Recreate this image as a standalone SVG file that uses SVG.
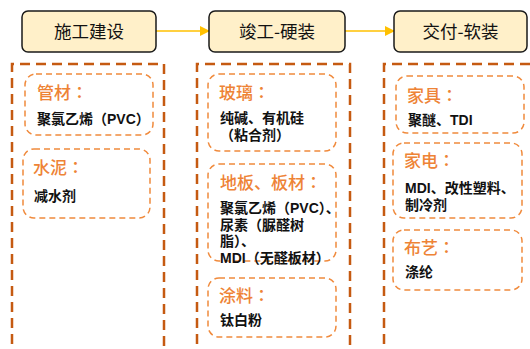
<svg xmlns="http://www.w3.org/2000/svg" width="530" height="349" viewBox="0 0 530 349">
<defs>
<style>
.stage{fill:#FFF0C9;stroke:#1a1a1a;stroke-width:1.5}
.stxt{font-family:"Noto Sans CJK SC","Liberation Sans",sans-serif;font-size:17.5px;fill:#111;text-anchor:middle}
.col{fill:none;stroke:#C55A11;stroke-width:2.5;stroke-dasharray:10 6}
.card{fill:none;stroke:#F08A3C;stroke-width:1.5;stroke-dasharray:6 4}
.ttl{font-family:"Noto Sans CJK SC","Liberation Sans",sans-serif;font-size:17px;fill:#EE8336;font-weight:500}
.colon{font-family:"Noto Sans CJK TC",sans-serif}
.body{font-family:"Liberation Sans","Noto Sans CJK SC",sans-serif;font-size:14px;fill:#111;font-weight:bold}
.conn{stroke:#FFC000;stroke-width:1.5;fill:none}
</style>
<marker id="ah" markerWidth="10" markerHeight="10" refX="9" refY="5" orient="auto" markerUnits="userSpaceOnUse">
<path d="M0,0 L10,5 L0,10 z" fill="#FFC000"/>
</marker>
</defs>
<rect width="530" height="349" fill="#fff"/>
<g id="connectors">
<line class="conn" x1="156" y1="31" x2="209" y2="31" marker-end="url(#ah)"/>
<line class="conn" x1="345" y1="31" x2="394" y2="31" marker-end="url(#ah)"/>
</g>
<g id="stage1">
<rect class="stage" x="22" y="11" width="134" height="41" rx="6"/>
<text class="stxt" x="89" y="37.5">施工建设</text>
</g>
<g id="stage2">
<rect class="stage" x="209" y="11" width="136" height="41" rx="6"/>
<text class="stxt" x="277" y="37.5">竣工-硬装</text>
</g>
<g id="stage3">
<rect class="stage" x="394" y="11" width="133" height="41" rx="6"/>
<text class="stxt" x="460.5" y="37.5">交付-软装</text>
</g>
<g id="col1">
<path class="col" d="M12,360 L12,64 L164,64 L164,360"/>
</g>
<g id="col2">
<path class="col" d="M197,360 L197,64 L350,64 L350,360"/>
</g>
<g id="col3">
<path class="col" d="M384,360 L384,64 L540,64"/>
</g>
<g id="pipe">
<rect class="card" x="25" y="74" width="128" height="61" rx="11"/>
<text class="ttl" x="37" y="99">管材<tspan class="colon">：</tspan></text>
<text class="body" x="37" y="124">聚氯乙烯（PVC）</text>
</g>
<g id="cement">
<rect class="card" x="23" y="149" width="127" height="69" rx="11"/>
<text class="ttl" x="33" y="174">水泥<tspan class="colon">：</tspan></text>
<text class="body" x="34" y="201">减水剂</text>
</g>
<g id="glass">
<rect class="card" x="208" y="74" width="128" height="77" rx="11"/>
<text class="ttl" x="219" y="99">玻璃<tspan class="colon">：</tspan></text>
<text class="body" x="220" y="123">纯碱、有机硅</text>
<text class="body" x="220" y="140">（粘合剂）</text>
</g>
<g id="floor">
<rect class="card" x="208" y="164" width="128" height="97" rx="11"/>
<text class="ttl" x="220" y="189">地板、板材<tspan class="colon">：</tspan></text>
<text class="body" x="220" y="213">聚氯乙烯（PVC）、</text>
<text class="body" x="220" y="229.5">尿素（脲醛树</text>
<text class="body" x="220" y="246">脂）、</text>
<text class="body" x="220" y="263">MDI（无醛板材）</text>
</g>
<g id="paint">
<rect class="card" x="208" y="278" width="128" height="59" rx="11"/>
<text class="ttl" x="219" y="302">涂料<tspan class="colon">：</tspan></text>
<text class="body" x="220" y="325">钛白粉</text>
</g>
<g id="furniture">
<rect class="card" x="396" y="76" width="128" height="57" rx="11"/>
<text class="ttl" x="407" y="102">家具<tspan class="colon">：</tspan></text>
<text class="body" x="408" y="125">聚醚、TDI</text>
</g>
<g id="appliance">
<rect class="card" x="393" y="143" width="129" height="75" rx="11"/>
<text class="ttl" x="404" y="167">家电<tspan class="colon">：</tspan></text>
<text class="body" x="405" y="193">MDI、改性塑料、</text>
<text class="body" x="405" y="209.5">制冷剂</text>
</g>
<g id="fabric">
<rect class="card" x="393" y="230" width="129" height="60" rx="11"/>
<text class="ttl" x="404" y="254">布艺<tspan class="colon">：</tspan></text>
<text class="body" x="405" y="277">涤纶</text>
</g>
</svg>
